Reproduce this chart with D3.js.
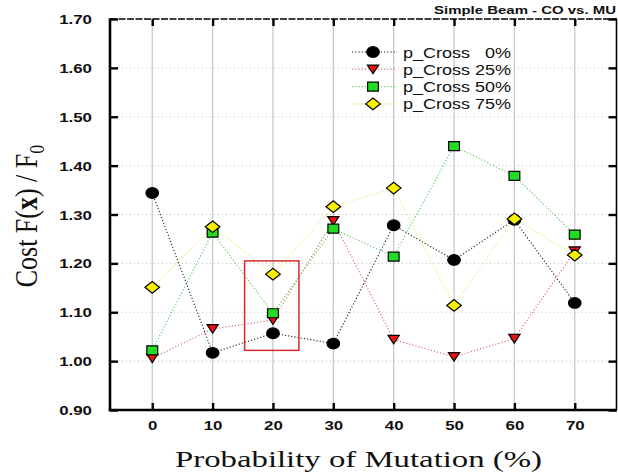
<!DOCTYPE html>
<html>
<head>
<meta charset="utf-8">
<script src="https://cdn.jsdelivr.net/npm/d3@7"></script>
<style>
  body { margin: 0; background: #fff; }
  svg { display: block; }
</style>
</head>
<body>
<div id="chart"></div>
<script>
// data
var mutation = [0, 10, 20, 30, 40, 50, 60, 70];
var cross0  = [1.344, 1.017, 1.057, 1.036, 1.278, 1.207, 1.289, 1.119];
var cross25 = [1.006, 1.066, 1.084, 1.287, 1.044, 1.009, 1.046, 1.225];
var cross50 = [1.022, 1.263, 1.098, 1.271, 1.214, 1.440, 1.379, 1.259];
var cross75 = [1.151, 1.275, 1.178, 1.316, 1.354, 1.114, 1.291, 1.217];
var seriesNames = ["p_Cross   0%", "p_Cross 25%", "p_Cross 50%", "p_Cross 75%"];
var yTicks = [0.90, 1.00, 1.10, 1.20, 1.30, 1.40, 1.50, 1.60, 1.70];
var boxX = [15.3, 24.3], boxY = [1.205, 1.022];

var W = 618, H = 474;
var margin = {top: 19, right: 1, bottom: 64, left: 110};

var x = d3.scaleLinear().domain([-7, 77]).range([margin.left, W - margin.right]);
var y = d3.scaleLinear().domain([0.9, 1.7]).range([H - margin.bottom, margin.top]);

var svg = d3.select("#chart").append("svg")
    .attr("width", W)
    .attr("height", H);

// the picture is stretched sideways, so text is widened with textLength
function widen(sel, k) {
  sel.each(function() {
    var len = this.getComputedTextLength();
    d3.select(this).attr("textLength", len * k).attr("lengthAdjust", "spacingAndGlyphs");
  });
}

var x0 = x.range()[0], x1 = x.range()[1], y0 = y.range()[0], y1 = y.range()[1];

// grid
svg.append("g").selectAll("line").data(yTicks.slice(1, -1)).enter().append("line")
    .attr("x1", x0).attr("x2", x1)
    .attr("y1", d => y(d)).attr("y2", d => y(d))
    .attr("stroke", "#bbb").attr("stroke-width", 1)
    .attr("stroke-dasharray", "1,3");

svg.append("g").selectAll("line").data(mutation).enter().append("line")
    .attr("x1", d => x(d)).attr("x2", d => x(d))
    .attr("y1", y1).attr("y2", y0)
    .attr("stroke", "#c8c8c8").attr("stroke-width", 1.3);

// frame
svg.append("line").attr("x1", x0).attr("x2", x1).attr("y1", y1).attr("y2", y1)
    .attr("stroke", "#000").attr("stroke-width", 1.6).attr("stroke-dasharray", "7,1.5");
svg.append("line").attr("x1", x1 - 0.5).attr("x2", x1 - 0.5).attr("y1", y1).attr("y2", y0)
    .attr("stroke", "#000").attr("stroke-width", 1.6);
svg.append("line").attr("x1", x0).attr("x2", x0).attr("y1", y1 - 0.8).attr("y2", y0 + 1.2)
    .attr("stroke", "#000").attr("stroke-width", 2.6);
svg.append("line").attr("x1", x0 - 1.2).attr("x2", x1).attr("y1", y0).attr("y2", y0)
    .attr("stroke", "#000").attr("stroke-width", 2.6);

// axes with inward ticks
var xAxis = svg.append("g")
    .attr("transform", "translate(0," + y0 + ")")
    .call(d3.axisBottom(x).tickValues(mutation).tickSize(-7).tickPadding(16).tickFormat(d3.format("d")));
var xTop = svg.append("g")
    .attr("transform", "translate(0," + y1 + ")")
    .call(d3.axisTop(x).tickValues(mutation).tickSize(-7).tickFormat(""));
var yAxis = svg.append("g")
    .attr("transform", "translate(" + x0 + ",0)")
    .call(d3.axisLeft(y).tickValues(yTicks).tickSize(-8).tickPadding(18).tickFormat(d3.format(".2f")));
var yRight = svg.append("g")
    .attr("transform", "translate(" + (x1 - 0.5) + ",0)")
    .call(d3.axisRight(y).tickValues(yTicks).tickSize(-8).tickFormat(""));

[xAxis, xTop, yAxis, yRight].forEach(function(g) {
  g.select(".domain").remove();
  g.selectAll(".tick line").attr("stroke", "#000").attr("stroke-width", 2.4);
});
xAxis.selectAll(".tick text").attr("dy", "0.32em");
yAxis.selectAll(".tick text").attr("dy", "0.36em");
svg.selectAll(".tick text")
    .attr("font-family", "Liberation Sans, Arial, sans-serif")
    .attr("font-weight", "bold")
    .attr("font-size", 12.5)
    .attr("fill", "#111");
widen(svg.selectAll(".tick text"), 1.35);

// series
var series = [
  {name: seriesNames[0], values: cross0,  line: "#222",    fill: "#000",    shape: "circle"},
  {name: seriesNames[1], values: cross25, line: "#d86a6a", fill: "#ee1111", shape: "triangle"},
  {name: seriesNames[2], values: cross50, line: "#55cc55", fill: "#22dd22", shape: "square"},
  {name: seriesNames[3], values: cross75, line: "#e8e870", fill: "#f8f000", shape: "diamond"}
];

function markerPath(shape) {
  if (shape === "circle") return "M-6.3,0A6.3,5.3 0 1,0 6.3,0A6.3,5.3 0 1,0 -6.3,0Z";
  if (shape === "triangle") return "M-5.6,-4.2L5.6,-4.2L0,4.4Z";
  if (shape === "square") return "M-5.4,-4.5L5.4,-4.5L5.4,4.5L-5.4,4.5Z";
  return "M-7.3,0L0,-5.8L7.3,0L0,5.8Z";
}

var line = d3.line()
    .x(function(d, i) { return x(mutation[i]); })
    .y(function(d) { return y(d); });

series.forEach(function(s) {
  svg.append("path")
      .attr("d", line(s.values))
      .attr("fill", "none")
      .attr("stroke", s.line)
      .attr("stroke-width", 1.1)
      .attr("stroke-dasharray", "1.2,2");
});

series.forEach(function(s) {
  svg.append("g").selectAll("path").data(s.values).enter().append("path")
      .attr("transform", (d, i) => "translate(" + x(mutation[i]) + "," + y(d) + ")")
      .attr("d", markerPath(s.shape))
      .attr("fill", s.fill)
      .attr("stroke", "#000")
      .attr("stroke-width", 1.2);
});

// red highlight box
svg.append("rect")
    .attr("x", x(boxX[0]))
    .attr("y", y(boxY[0]))
    .attr("width", x(boxX[1]) - x(boxX[0]))
    .attr("height", y(boxY[1]) - y(boxY[0]))
    .attr("fill", "none")
    .attr("stroke", "#d42a2a")
    .attr("stroke-width", 1.5);

// legend
var legend = svg.append("g").attr("transform", "translate(373,52)");
series.forEach(function(s, i) {
  var row = legend.append("g").attr("transform", "translate(0," + (i * 17.3) + ")");
  row.append("line")
      .attr("x1", -21).attr("x2", 24).attr("y1", 0).attr("y2", 0)
      .attr("stroke", s.line).attr("stroke-width", 1.1).attr("stroke-dasharray", "1.2,2");
  row.append("path")
      .attr("d", markerPath(s.shape))
      .attr("fill", s.fill).attr("stroke", "#000").attr("stroke-width", 1.2);
  row.append("text")
      .attr("x", 30).attr("y", 5.5)
      .style("white-space", "pre")
      .attr("font-family", "Liberation Sans, Arial, sans-serif")
      .attr("font-size", 15)
      .attr("fill", "#111")
      .text(s.name);
});
widen(legend.selectAll("text"), 1.2);

// title
var title = svg.append("text")
    .attr("x", 616).attr("y", 14)
    .attr("text-anchor", "end")
    .attr("font-family", "Liberation Sans, Arial, sans-serif")
    .attr("font-weight", "bold")
    .attr("font-size", 11.5)
    .attr("fill", "#111")
    .text("Simple Beam - CO vs. MU");
widen(title, 1.3);

// axis titles
var xTitle = svg.append("text")
    .attr("x", (175 + 542) / 2).attr("y", 467)
    .attr("text-anchor", "middle")
    .attr("font-family", "Liberation Serif, Times New Roman, serif")
    .attr("font-size", 23)
    .attr("fill", "#111")
    .text("Probability of Mutation (%)");
xTitle.attr("textLength", 367).attr("lengthAdjust", "spacingAndGlyphs");

var yTitle = svg.append("text")
    .attr("transform", "translate(37,216) rotate(-90) scale(1,1.2)")
    .attr("text-anchor", "middle")
    .attr("font-family", "Liberation Serif, Times New Roman, serif")
    .attr("font-size", 26)
    .attr("fill", "#111");
yTitle.append("tspan").text("Cost F(");
yTitle.append("tspan").attr("font-weight", "bold").text("x");
yTitle.append("tspan").text(") / F");
yTitle.append("tspan").attr("font-size", 18).attr("dy", 6).text("0");
</script>
</body>
</html>
